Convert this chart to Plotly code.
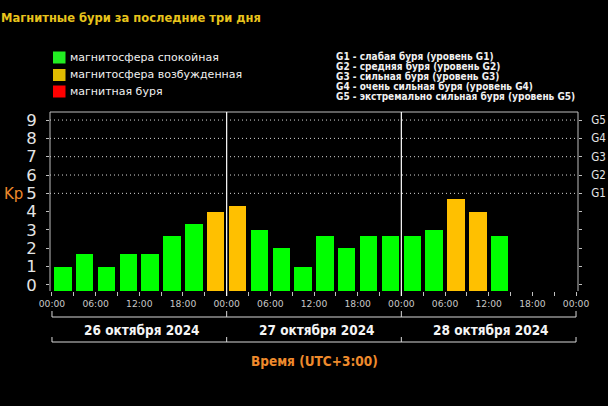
import plotly.graph_objects as go

# ---------------- data ----------------
DAY_LABELS = ["26 октября 2024", "27 октября 2024", "28 октября 2024"]
KP_DAY1 = [1.0, 1.67, 1.0, 1.67, 1.67, 2.67, 3.33, 4.0]
KP_DAY2 = [4.33, 3.0, 2.0, 1.0, 2.67, 2.0, 2.67, 2.67]
KP_DAY3 = [2.67, 3.0, 4.67, 4.0, 2.67]
X_TICK_HOURS = list(range(0, 73, 3))
X_TICK_LABELS = [("%02d:00" % (h % 24)) if h % 6 == 0 else "" for h in X_TICK_HOURS]
Y_TICKS = list(range(0, 10))
G_LABELS = ["G1", "G2", "G3", "G4", "G5"]
G_LEVELS = [5, 6, 7, 8, 9]
LEGEND_LABELS = ["магнитосфера спокойная", "магнитосфера возбужденная", "магнитная буря"]
G_DESCRIPTIONS = [
    "G1 - слабая буря (уровень G1)",
    "G2 - средняя буря (уровень G2)",
    "G3 - сильная буря (уровень G3)",
    "G4 - очень сильная буря (уровень G4)",
    "G5 - экстремально сильная буря (уровень G5)",
]
TITLE = "Магнитные бури за последние три дня"
XAXIS_TITLE = "Время (UTC+3:00)"

# ---------------- styles ----------------
GREEN = "#00FF00"
YELLOW = "#FFC000"
RED = "#FF0000"
LEG_COLORS = ["#22EE22", "#E0BC00", "#FF0000"]
ORANGE = "#EE8A2C"
GRAY = "#C8C8C8"

W, H = 608, 406
L, R, T, B = 50, 578, 112, 291
Y_MIN, Y_MAX = -0.33, 9.44
X_MIN, X_MAX = -0.27, 72.27


def kp_color(v):
    if v >= 5:
        return RED
    if v >= 4:
        return YELLOW
    return GREEN


def py(p):
    return (B - p) / (B - T)


def px(p):
    return (p - L) / (R - L)


kp_all = KP_DAY1 + KP_DAY2 + KP_DAY3
hours = [1.5 + 3 * i for i in range(len(kp_all))]

fig = go.Figure()
fig.add_trace(go.Bar(
    x=hours,
    y=[v - Y_MIN for v in kp_all],
    base=Y_MIN,
    width=2.4,
    marker=dict(color=[kp_color(v) for v in kp_all], line=dict(width=0)),
    customdata=kp_all,
    hovertemplate="Kp=%{customdata}<extra></extra>",
    showlegend=False,
))
# invisible trace so that the right-hand axis is drawn
fig.add_trace(go.Scatter(x=[0], y=[0], yaxis="y2", mode="markers",
                         marker=dict(opacity=0), showlegend=False, hoverinfo="skip"))

shapes = []
# dotted grid at G levels
for g in G_LEVELS:
    shapes.append(dict(type="line", xref="paper", yref="y", x0=0, x1=1, y0=g, y1=g,
                       line=dict(color="#D8D8D8", width=1, dash="1px,3px"), layer="below"))
# plot frame (left, top, right)
for x0, y0, x1, y1 in [(0, 0, 0, 1), (0, 1, 1, 1), (1, 0, 1, 1)]:
    shapes.append(dict(type="line", xref="paper", yref="paper", x0=x0, y0=y0, x1=x1, y1=y1,
                       line=dict(color="#BEBEBE", width=1)))
# day separators
for d in (24, 48):
    shapes.append(dict(type="line", xref="x", yref="paper", x0=d, x1=d, y0=py(296), y1=1,
                       line=dict(color="#FFFFFF", width=1.2)))
# day brackets
for ly, ty in [(317, 311), (342, 337)]:
    shapes.append(dict(type="line", xref="x", yref="paper", x0=0, x1=72, y0=py(ly), y1=py(ly),
                       line=dict(color="#D8D8D8", width=1)))
    for d in (0, 24, 48, 72):
        shapes.append(dict(type="line", xref="x", yref="paper", x0=d, x1=d, y0=py(ly), y1=py(ty),
                           line=dict(color="#D8D8D8", width=1)))
# legend swatches
leg_y = [57.5, 75, 91.5]
for c, yc in zip(LEG_COLORS, leg_y):
    shapes.append(dict(type="rect", xref="paper", yref="paper",
                       x0=px(53), x1=px(65.5), y0=py(yc - 6), y1=py(yc + 6),
                       fillcolor=c, line=dict(width=0)))

ann = []
ann.append(dict(text="<b>" + TITLE + "</b>", xref="paper", yref="paper", x=px(-1.5), y=py(17.5),
                xanchor="left", yanchor="middle", showarrow=False,
                font=dict(family="DejaVu Sans", size=11.5, color="#E8C41C")))
for lab, yc in zip(LEGEND_LABELS, leg_y):
    ann.append(dict(text=lab, xref="paper", yref="paper", x=px(68), y=py(yc),
                    xanchor="left", yanchor="middle", showarrow=False,
                    font=dict(family="DejaVu Sans", size=11, color="#F0F0F0")))
g_y = [56.7, 66.7, 76.7, 86.8, 97.0]
for lab, yc in zip(G_DESCRIPTIONS, g_y):
    ann.append(dict(text="<b>" + lab + "</b>", xref="paper", yref="paper", x=px(333.5), y=py(yc),
                    xanchor="left", yanchor="middle", showarrow=False,
                    font=dict(family="DejaVu Sans Condensed", size=10, color="#F0F0F0")))
for i, lab in enumerate(DAY_LABELS):
    ann.append(dict(text="<b>" + lab + "</b>", xref="x", yref="paper", x=12 + 24 * i, y=py(329.5),
                    xanchor="center", yanchor="middle", showarrow=False, xshift=2.5,
                    font=dict(family="DejaVu Sans Condensed", size=13.5, color="#F4F4F4")))
ann.append(dict(text="<b>" + XAXIS_TITLE + "</b>", xref="x", yref="paper", x=36, y=py(360.5),
                xanchor="center", yanchor="middle", showarrow=False,
                font=dict(family="DejaVu Sans Condensed", size=13.5, color=ORANGE)))
ann.append(dict(text="Kp", xref="paper", yref="paper", x=px(2), y=py(194),
                xanchor="left", yanchor="middle", showarrow=False,
                font=dict(family="DejaVu Sans", size=15, color=ORANGE)))

fig.update_layout(
    width=W, height=H,
    margin=dict(l=L, r=W - R, t=T, b=H - B, pad=0, autoexpand=False),
    paper_bgcolor="#000000", plot_bgcolor="#000000",
    showlegend=False,
    bargap=0,
    xaxis=dict(range=[X_MIN, X_MAX], tickmode="array", tickvals=X_TICK_HOURS,
               ticktext=X_TICK_LABELS, ticks="outside", ticklen=4, tickcolor="#C0C0C0",
               showgrid=False, zeroline=False, showline=False, automargin=False,
               tickfont=dict(family="DejaVu Sans", size=9.2, color=GRAY), tickangle=0),
    yaxis=dict(range=[Y_MIN, Y_MAX], tickmode="array", tickvals=Y_TICKS,
               ticks="outside", ticklen=3, tickcolor="#C0C0C0", ticklabelstandoff=6,
               showgrid=False, zeroline=False, showline=False, automargin=False,
               tickfont=dict(family="DejaVu Sans", size=16.5, color="#E4E4E4")),
    yaxis2=dict(range=[Y_MIN, Y_MAX], overlaying="y", side="right", tickmode="array",
                tickvals=Y_TICKS, ticktext=[""] * 5 + G_LABELS,
                ticks="outside", ticklen=3, tickcolor="#C0C0C0", ticklabelstandoff=7,
                showgrid=False, zeroline=False, showline=False, automargin=False,
                tickfont=dict(family="DejaVu Sans Condensed", size=11.5, color="#E4E4E4")),
    shapes=shapes,
    annotations=ann,
)

fig.write_html("out.html")
